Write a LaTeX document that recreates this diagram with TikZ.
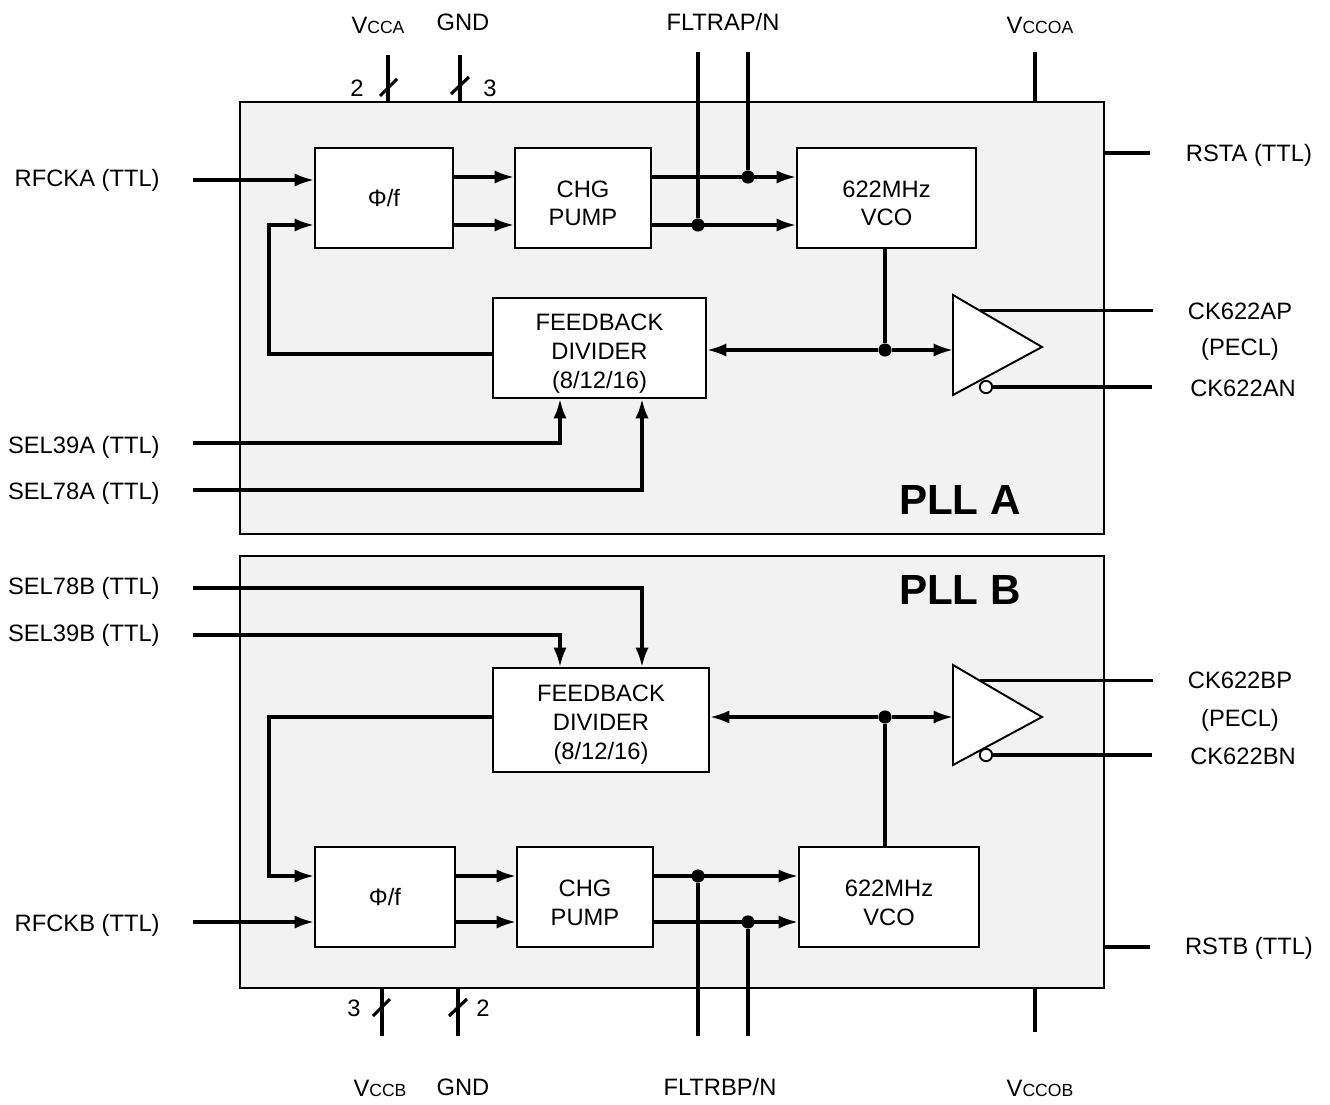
\documentclass[tikz,border=0pt]{standalone}
\usepackage{fontspec}
\setmainfont{Liberation Sans}
\usetikzlibrary{arrows.meta,positioning,calc}
\definecolor{chipfill}{HTML}{F2F2F2}
\newcommand{\pinfont}{\fontsize{13.5}{16.5}\selectfont}
\newcommand{\vsc}[1]{V{\fontsize{10}{12}\selectfont #1}}
\tikzset{
  chip/.style={draw=black,line width=1.1pt,fill=chipfill},
  blockbox/.style={draw=black,fill=white,line width=1.1pt,align=center,
    minimum height=2cm,inner sep=0pt,font=\pinfont},
  textbox/.style={blockbox,text height=#1},
  buffer/.style={draw=black,fill=white,line width=1.1pt},
  wire/.style={line width=1.8pt},
  arrow/.style={wire,-{Latex[length=11pt,width=7.5pt]}},
  joint/.style={circle,fill=black,inner sep=0pt,minimum size=7.5pt},
  bubble/.style={circle,draw=black,fill=white,line width=1.1pt,inner sep=0pt,minimum size=7pt},
  pin/.style={font=\pinfont,inner sep=0pt},
  title/.style={font=\fontsize{24}{28}\selectfont\bfseries,inner sep=0pt}
}
\begin{document}
\begin{tikzpicture}[x=0.02cm,y=-0.02cm]
  \useasboundingbox (0,0) rectangle (1330,1105);
  % chip outlines
  \draw[chip] (240,102) rectangle (1104,534);
  \draw[chip] (240,556) rectangle (1104,988);
  \node[title] (plla) at (960,500) {PLL A};
  \node[title] (pllb) at (960,590) {PLL B};

  % ---------- PLL A ----------
  \node[blockbox,minimum width=2.76cm] (phiA) at (384,198) {Φ/f};
  \node[textbox=32pt,minimum width=2.72cm] (chgA) at (583,198) {CHG\\PUMP};
  \node[textbox=32pt,minimum width=3.58cm] (vcoA) at (886.5,198) {622MHz\\VCO};
  \node[textbox=48.5pt,minimum width=4.26cm] (fbA) at (599.5,348) {FEEDBACK\\DIVIDER\\(8/12/16)};
  \coordinate (rA1) at (0,177);
  \coordinate (rA2) at (0,225);
  \coordinate (lpA) at (269,225);
  \coordinate (fbAo) at (269,354);
  \coordinate (jA) at (885,350);
  \coordinate (fltApT) at (748,52);
  \coordinate (fltAnT) at (698,52);
  \node[joint] (dApT) at (748,177) {};
  \node[joint] (dAnT) at (698,225) {};
  \node[joint] (dAv) at (jA) {};
  % buffer A
  \draw[buffer] (953,295) coordinate (bAtop) -- (1042,347) -- (953,395) -- cycle;
  \node[bubble] (bubA) at (986,387) {};
  \coordinate (bufAin) at (953,350);
  \coordinate (bAo) at ($(bAtop)!0.3!(1042,347)$);

  \draw[arrow] (phiA.east |- rA1) -- (chgA.west |- rA1);
  \draw[arrow] (phiA.east |- rA2) -- (chgA.west |- rA2);
  \draw[arrow] (chgA.east |- rA1) -- (vcoA.west |- rA1);
  \draw[arrow] (chgA.east |- rA2) -- (vcoA.west |- rA2);
  \draw[wire] (fltApT) -- (dApT);
  \draw[wire] (fltAnT) -- (dAnT);
  \draw[wire] (vcoA.south -| jA) -- (dAv);
  \draw[arrow] (dAv) -- (bufAin);
  \draw[arrow] (dAv) -- (fbA.east |- jA);
  \draw[arrow] (fbA.west |- fbAo) -- (fbAo) -- (lpA) -- (phiA.west |- lpA);

  % PLL A pins
  \node[pin,anchor=east] (rfcka) at (160,180) {RFCKA (TTL)};
  \node[pin,anchor=east] (sel39a) at (160,447) {SEL39A (TTL)};
  \node[pin,anchor=east] (sel78a) at (160,493) {SEL78A (TTL)};
  \coordinate (rfckaS) at (193,180);
  \coordinate (sel39aS) at (193,443);
  \coordinate (sel78aS) at (193,490);
  \draw[arrow] (rfckaS) -- (phiA.west |- rfckaS);
  \draw[arrow] (sel39aS) -- (560,443) -- (fbA.south -| 560,0);
  \draw[arrow] (sel78aS) -- (642,490) -- (fbA.south -| 642,0);

  \node[pin] (vcca) at (378,25) {\vsc{CCA}};
  \node[pin] (gnda) at (463,22) {GND};
  \node[pin] (fltrap) at (723,22) {FLTRAP/N};
  \node[pin] (vccoa) at (1040,25) {\vsc{CCOA}};
  \node[pin] (nvcca) at (357,88) {2};
  \node[pin] (ngnda) at (490,88) {3};
  \draw[wire] (388,55) -- (388,102);
  \draw[wire] (380,96) -- (397,79);
  \draw[wire] (460,55) -- (460,102);
  \draw[wire] (451,94) -- (469,77);
  \draw[wire] (1035,52) -- (1035,102);

  \coordinate (ckapE) at (1153,311);
  \coordinate (ckanE) at (1152,387);
  \draw[wire] (bAo) -- (bAo -| ckapE);
  \draw[wire] (bubA.east) -- (ckanE);
  \draw[wire] (1104,153) -- (1150,153);
  \node[pin] (ckap) at (1240,311) {CK622AP};
  \node[pin] (pecla) at (1240,349) {(PECL)};
  \node[pin] (ckan) at (1243,388) {CK622AN};
  \node[pin] (rsta) at (1249,155) {RSTA (TTL)};

  % ---------- PLL B ----------
  \node[blockbox,minimum width=2.8cm] (phiB) at (385,897) {Φ/f};
  \node[textbox=32pt,minimum width=2.72cm] (chgB) at (585,897) {CHG\\PUMP};
  \node[textbox=32pt,minimum width=3.6cm] (vcoB) at (889,897) {622MHz\\VCO};
  \node[textbox=47.8pt,minimum width=4.32cm,minimum height=2.08cm] (fbB) at (601,720) {FEEDBACK\\DIVIDER\\(8/12/16)};
  \coordinate (rB1) at (0,876);
  \coordinate (rB2) at (0,922);
  \coordinate (lpB) at (269,876);
  \coordinate (jB) at (885,717);
  \coordinate (fltBpT) at (698,1036);
  \coordinate (fltBnT) at (748,1036);
  \node[joint] (dBpT) at (698,876) {};
  \node[joint] (dBnT) at (748,922) {};
  \node[joint] (dBv) at (jB) {};
  % buffer B
  \draw[buffer] (953,665) coordinate (bBtop) -- (1042,717) -- (953,765) -- cycle;
  \node[bubble] (bubB) at (986,755) {};
  \coordinate (bufBin) at (953,717);
  \coordinate (bBo) at ($(bBtop)!0.3!(1042,717)$);

  \draw[arrow] (phiB.east |- rB1) -- (chgB.west |- rB1);
  \draw[arrow] (phiB.east |- rB2) -- (chgB.west |- rB2);
  \draw[arrow] (chgB.east |- rB1) -- (vcoB.west |- rB1);
  \draw[arrow] (chgB.east |- rB2) -- (vcoB.west |- rB2);
  \draw[wire] (fltBpT) -- (dBpT);
  \draw[wire] (fltBnT) -- (dBnT);
  \draw[wire] (vcoB.north -| jB) -- (dBv);
  \draw[arrow] (dBv) -- (bufBin);
  \draw[arrow] (dBv) -- (fbB.east |- jB);
  \draw[arrow] (fbB.west |- jB) -- (jB -| lpB) -- (lpB) -- (phiB.west |- lpB);

  % PLL B pins
  \node[pin,anchor=east] (sel78b) at (160,588) {SEL78B (TTL)};
  \node[pin,anchor=east] (sel39b) at (160,635) {SEL39B (TTL)};
  \node[pin,anchor=east] (rfckb) at (160,925) {RFCKB (TTL)};
  \coordinate (sel78bS) at (193,588);
  \coordinate (sel39bS) at (193,635);
  \coordinate (rfckbS) at (193,922);
  \draw[arrow] (sel78bS) -- (642,588) -- (fbB.north -| 642,0);
  \draw[arrow] (sel39bS) -- (560,635) -- (fbB.north -| 560,0);
  \draw[arrow] (rfckbS) -- (phiB.west |- rfckbS);

  \node[pin] (vccb) at (380,1088) {\vsc{CCB}};
  \node[pin] (gndb) at (463,1087) {GND};
  \node[pin] (fltrbp) at (720,1087) {FLTRBP/N};
  \node[pin] (vccob) at (1040,1088) {\vsc{CCOB}};
  \node[pin] (nvccb) at (354,1008) {3};
  \node[pin] (ngndb) at (483,1008) {2};
  \draw[wire] (382,988) -- (382,1036);
  \draw[wire] (373,1016) -- (390,999);
  \draw[wire] (458,988) -- (458,1036);
  \draw[wire] (449,1016) -- (467,999);
  \draw[wire] (1035,988) -- (1035,1032);

  \coordinate (ckbpE) at (1153,681);
  \coordinate (ckbnE) at (1152,755);
  \draw[wire] (bBo) -- (bBo -| ckbpE);
  \draw[wire] (bubB.east) -- (ckbnE);
  \draw[wire] (1104,947) -- (1150,947);
  \node[pin] (ckbp) at (1240,680) {CK622BP};
  \node[pin] (peclb) at (1240,720) {(PECL)};
  \node[pin] (ckbn) at (1243,756) {CK622BN};
  \node[pin] (rstb) at (1249,948) {RSTB (TTL)};
\end{tikzpicture}
\end{document}
